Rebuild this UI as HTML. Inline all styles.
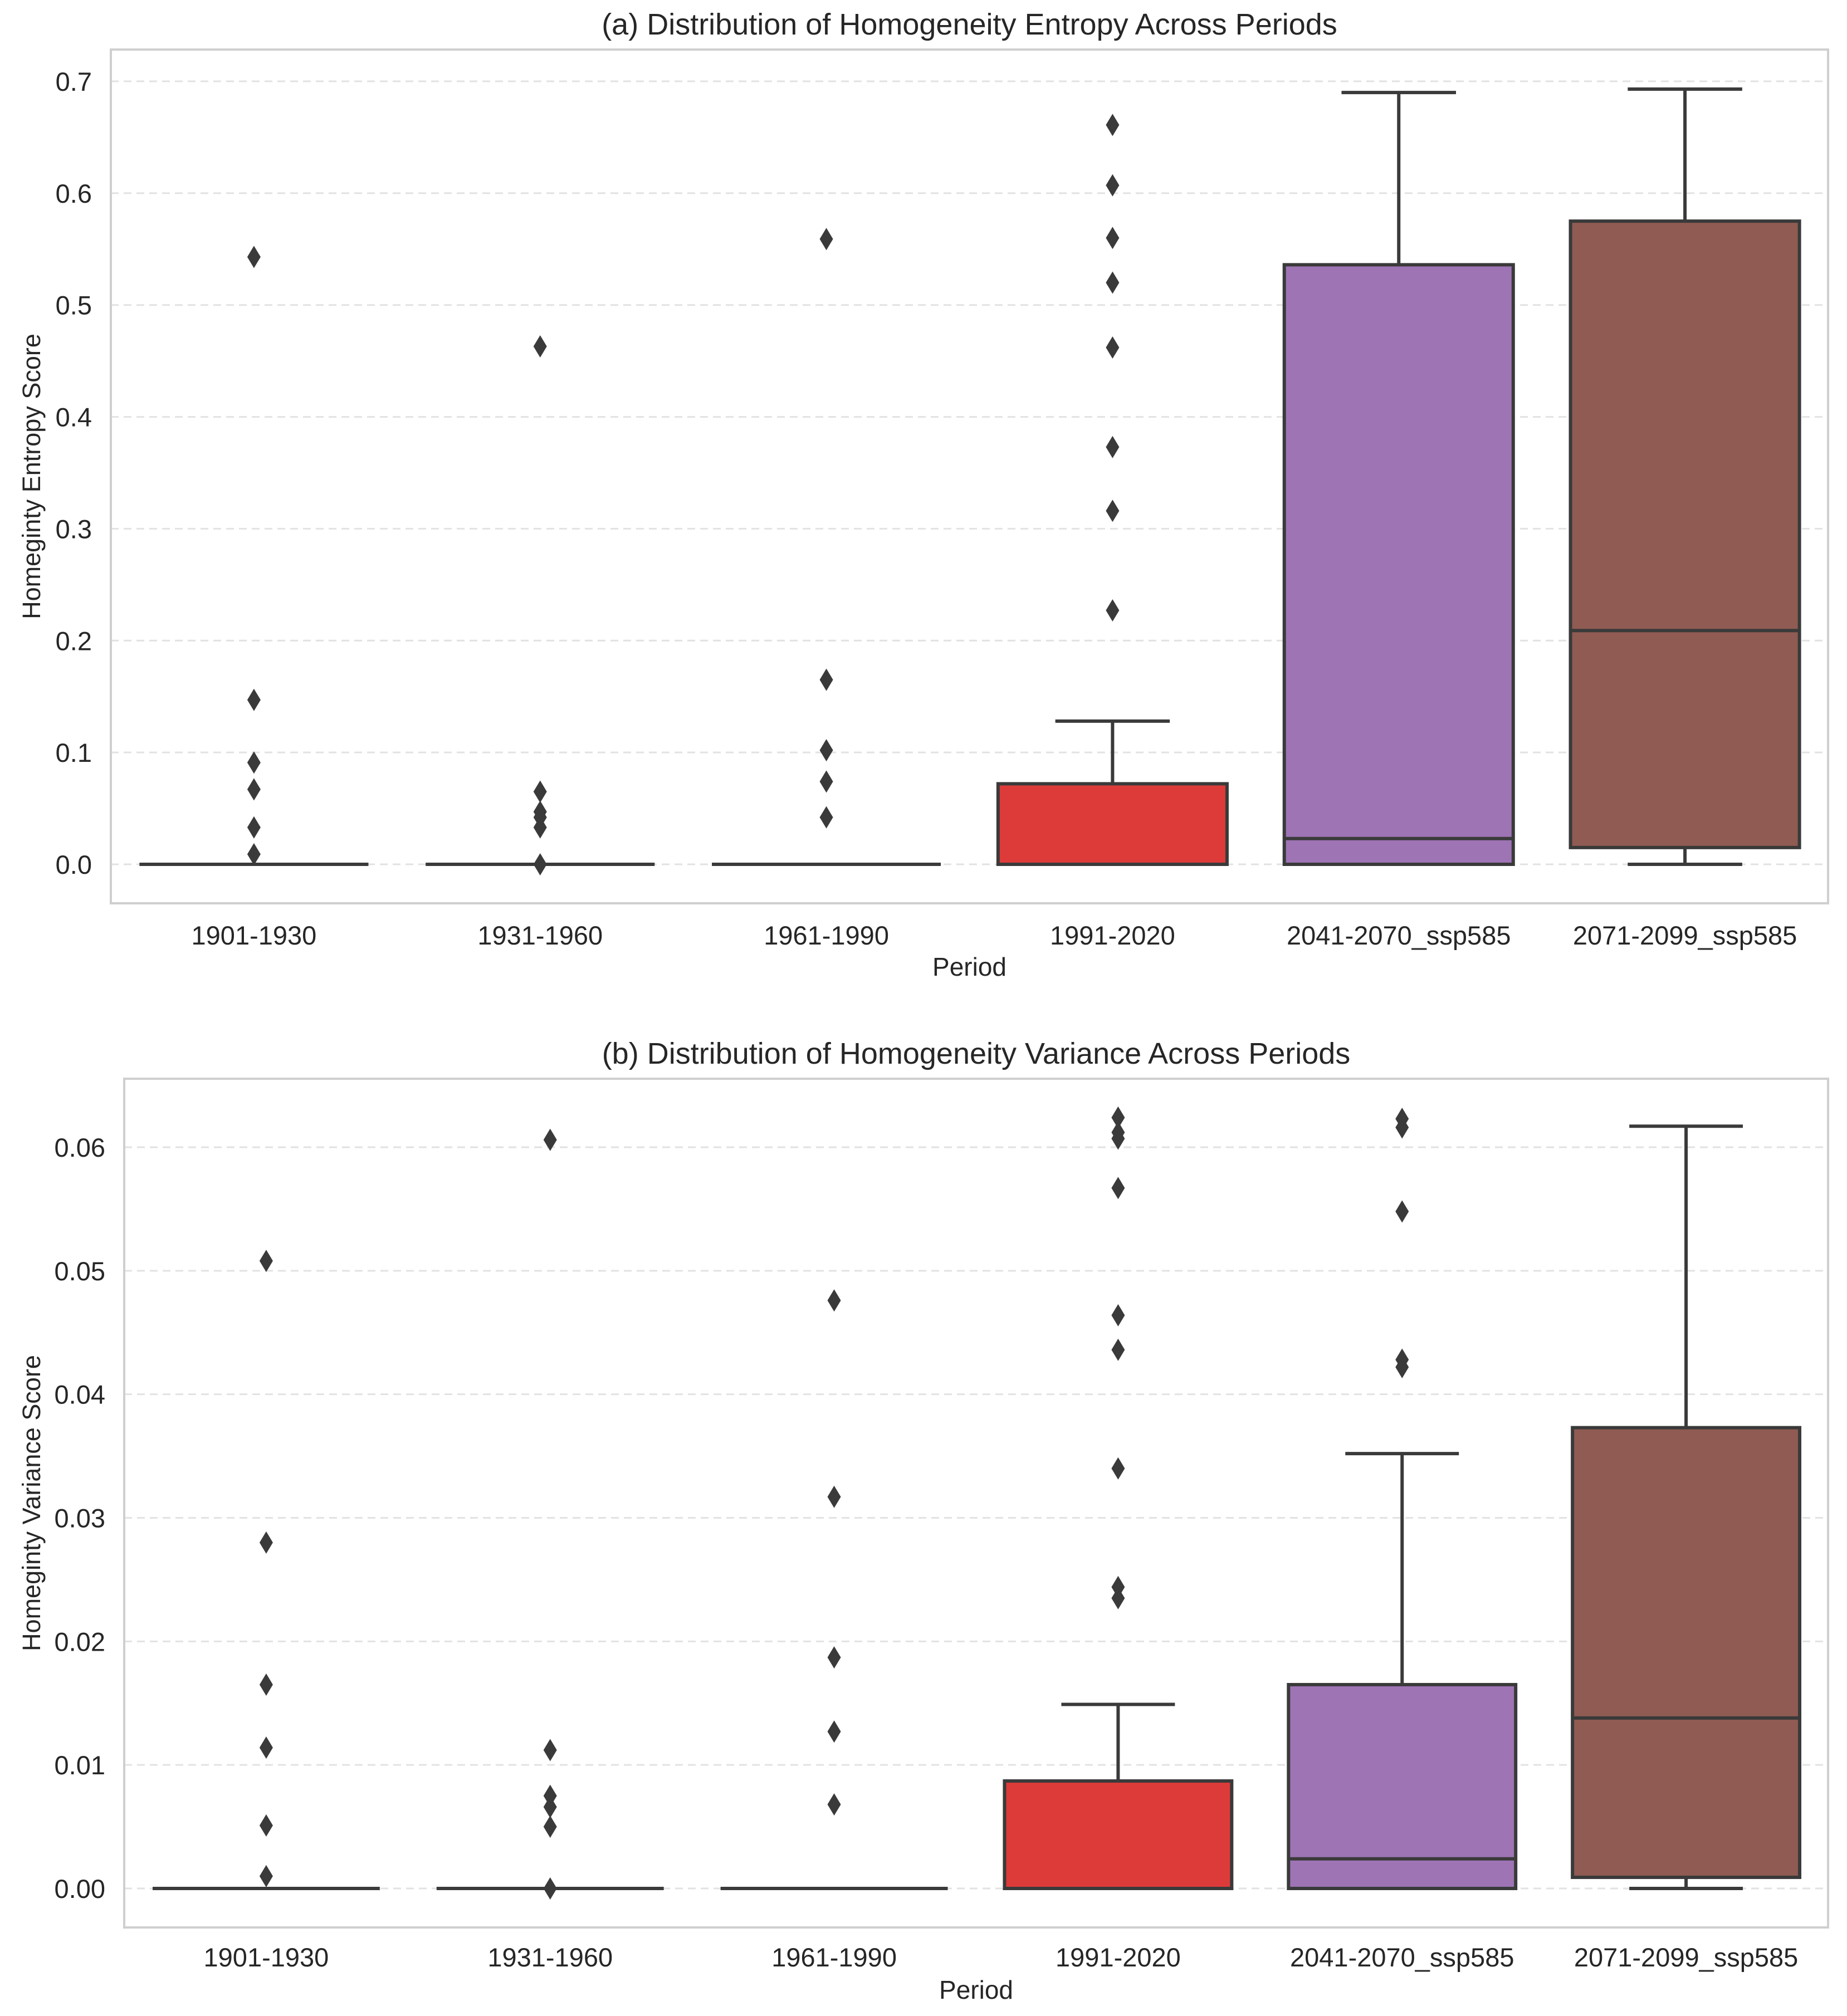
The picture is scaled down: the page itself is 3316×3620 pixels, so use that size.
<!DOCTYPE html>
<html><head><meta charset="utf-8">
<style>
html,body{margin:0;padding:0;background:#fff;}
svg{display:block;font-family:"Liberation Sans",Arial,sans-serif;}
</style></head>
<body>
<svg id="chart" width="3316" height="3620" viewBox="0 0 3316 3620" xmlns="http://www.w3.org/2000/svg"></svg>
<script>
const categories = ["1901-1930","1931-1960","1961-1990","1991-2020","2041-2070_ssp585","2071-2099_ssp585"];
const boxColors = ["#3a3a3a","#3a3a3a","#3a3a3a","#dc3b3a","#9e74b5","#8f5b52"];
// Panel (a) entropy: [low whisker, q1, median, q3, high whisker]
const entropyStats = [[0,0,0,0,0],[0,0,0,0,0],[0,0,0,0,0],[0,0,0,0.072,0.128],[0,0,0.023,0.536,0.690],[0,0.015,0.209,0.575,0.693]];
const entropyOutliers = [
  [0.543,0.147,0.091,0.067,0.033,0.009],
  [0.463,0.065,0.047,0.042,0.033,0.0],
  [0.559,0.165,0.102,0.074,0.042],
  [0.661,0.607,0.560,0.520,0.462,0.373,0.316,0.227],
  [],[]
];
const entropyTicks = [0,0.1,0.2,0.3,0.4,0.5,0.6,0.7];
const entropyTickLabels = ["0.0","0.1","0.2","0.3","0.4","0.5","0.6","0.7"];
// Panel (b) variance
const varianceStats = [[0,0,0,0,0],[0,0,0,0,0],[0,0,0,0,0],[0,0,0,0.0087,0.0149],[0,0,0.0024,0.0165,0.0352],[0,0.0009,0.0138,0.0373,0.0617]];
const varianceOutliers = [
  [0.0508,0.0280,0.0165,0.0114,0.0051,0.0010],
  [0.0606,0.0112,0.0075,0.0066,0.0050,0.0],
  [0.0476,0.0317,0.0187,0.0127,0.0068],
  [0.0624,0.0612,0.0607,0.0567,0.0464,0.0436,0.0340,0.0244,0.0235],
  [0.0623,0.0616,0.0548,0.0428,0.0422],
  []
];
const varianceTicks = [0,0.01,0.02,0.03,0.04,0.05,0.06];
const varianceTickLabels = ["0.00","0.01","0.02","0.03","0.04","0.05","0.06"];

const NS="http://www.w3.org/2000/svg";
const svg=document.getElementById('chart');
function mk(tag,attrs,parent,text){const e=document.createElementNS(NS,tag);for(const k in attrs)e.setAttribute(k,attrs[k]);if(text!==undefined)e.textContent=text;(parent||svg).appendChild(e);return e;}

function panel(cfg){
  const g=mk('g',{});
  
  
  const L=cfg.left,R=3282,T=cfg.top,B=cfg.bottom;
  const y=v=>cfg.y0+(cfg.yTop-cfg.y0)*(v/cfg.vTop);
  const band=(R-L)/categories.length;
  const xc=i=>L+band*(i+0.5);
  const bw=band*0.8;
  cfg.ticks.forEach((t,i)=>{
    const gl=mk('line',{x1:L,x2:R,y1:y(t),y2:y(t),stroke:'#e2e2e2','stroke-width':3,'stroke-dasharray':'14,9'},g);
    
    
    const tl=mk('text',{x:L-34,y:y(t)+17,'text-anchor':'end','font-size':47,fill:'#262626'},g,cfg.tickLabels[i]);
    
    
  });
  const fr=mk('rect',{x:L,y:T,width:R-L,height:B-T,fill:'none',stroke:'#cfcfcf','stroke-width':4},g);
  
  
  categories.forEach((c,i)=>{
    const s=cfg.stats[i],x=xc(i);
    const bg=mk('g',{},g);
    
    
    const lc='#3a3a3a',lw=6;
    mk('line',{x1:x,x2:x,y1:y(s[3]),y2:y(s[4]),stroke:lc,'stroke-width':lw},bg);
    mk('line',{x1:x,x2:x,y1:y(s[1]),y2:y(s[0]),stroke:lc,'stroke-width':lw},bg);
    mk('line',{x1:x-bw/4,x2:x+bw/4,y1:y(s[4]),y2:y(s[4]),stroke:lc,'stroke-width':lw},bg);
    mk('line',{x1:x-bw/4,x2:x+bw/4,y1:y(s[0]),y2:y(s[0]),stroke:lc,'stroke-width':lw},bg);
    mk('rect',{x:x-bw/2,y:y(s[3]),width:bw,height:Math.max(0,y(s[1])-y(s[3])),fill:boxColors[i],stroke:lc,'stroke-width':lw},bg);
    mk('line',{x1:x-bw/2,x2:x+bw/2,y1:y(s[2]),y2:y(s[2]),stroke:lc,'stroke-width':lw},bg);
    cfg.outliers[i].forEach(v=>{
      const yy=y(v);
      const d=mk('path',{d:`M${x} ${yy-20}L${x+12} ${yy}L${x} ${yy+20}L${x-12} ${yy}Z`,fill:'#3a3a3a'},bg);
      
      
    });
    const xl=mk('text',{x:x,y:cfg.labelY,'text-anchor':'middle','font-size':47,fill:'#262626'},g,c);
    
    
  });
  const ti=mk('text',{x:(L+R)/2,y:cfg.titleY,'text-anchor':'middle','font-size':54,fill:'#262626'},g,cfg.title);
  
  
  const xt=mk('text',{x:(L+R)/2,y:cfg.periodY,'text-anchor':'middle','font-size':46,fill:'#262626'},g,'Period');
  
  
  const cy=(T+B)/2;
  const yt=mk('text',{x:60,y:cy,'text-anchor':'middle','font-size':45,fill:'#262626',transform:`rotate(-90 60 ${cy})`,'dominant-baseline':'middle'},g,cfg.ylabel);
  
  
}

panel({name:'entropy-panel',left:199,top:89,bottom:1622,y0:1552,yTop:146,vTop:0.7,
  stats:entropyStats,outliers:entropyOutliers,ticks:entropyTicks,tickLabels:entropyTickLabels,
  labelY:1696,periodY:1752,titleY:62,title:'(a) Distribution of Homogeneity Entropy Across Periods',
  ylabel:'Homeginty Entropy Score'});
panel({name:'variance-panel',left:223,top:1937,bottom:3461,y0:3391,yTop:2060,vTop:0.06,
  stats:varianceStats,outliers:varianceOutliers,ticks:varianceTicks,tickLabels:varianceTickLabels,
  labelY:3531,periodY:3589,titleY:1910,title:'(b) Distribution of Homogeneity Variance Across Periods',
  ylabel:'Homeginty Variance Score'});
</script>
</body></html>
